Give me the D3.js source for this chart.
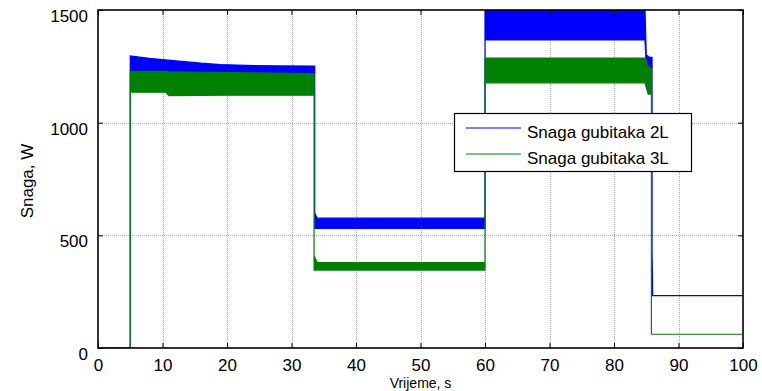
<!DOCTYPE html>
<html>
<head>
<meta charset="utf-8">
<script src="https://cdn.jsdelivr.net/npm/d3@7"></script>
<style>
  html, body { margin: 0; padding: 0; background: #fff; }
  svg { display: block; font-family: "Liberation Sans", Arial, sans-serif; }
</style>
</head>
<body>
<svg id="chart" width="762" height="391"></svg>
<script>
// Loss power of the two converter topologies over time (envelope of the fast ripple)
const seriesNames = ["Snaga gubitaka 2L", "Snaga gubitaka 3L"];

// 2-level converter: time [s], upper and lower envelope [W]
const time2L = [0, 5, 5, 8, 10, 13, 16, 19, 23, 28, 33.6, 33.6, 34.0, 60, 60, 84.8, 85.0, 85.5, 85.9, 85.9, 86.0, 100];
const high2L = [0, 0, 1296, 1285, 1280, 1272, 1264, 1258, 1254, 1252, 1251, 599, 576, 576, 1510, 1510, 1300, 1290, 1290, 427, 232, 232];
const low2L  = [0, 0, 1215, 1215, 1215, 1215, 1215, 1215, 1215, 1215, 1215, 531, 531, 531, 1367, 1367, 1260, 1225, 1225, 232, 232, 232];

// 3-level converter: time [s], upper and lower envelope [W]
const time3L = [0, 5, 5, 10.5, 11, 20, 33.5, 33.5, 34.0, 60, 60, 84.8, 85.3, 85.8, 85.8, 100];
const high3L = [0, 0, 1228, 1228, 1226, 1222, 1218, 408, 379, 379, 1287, 1287, 1250, 1240, 61, 61];
const low3L  = [0, 0, 1135, 1135, 1120, 1122, 1122, 346, 346, 346, 1177, 1177, 1127, 1127, 61, 61];

const xTicks = [0, 10, 20, 30, 40, 50, 60, 70, 80, 90, 100];
const yTicks = [0, 500, 1000, 1500];
const xTitle = "Vrijeme, s";
const yTitle = "Snaga, W";

const colors = ["#0000ff", "#008000"];

const W = 762, H = 391;
const margin = { left: 98, right: 19, top: 10, bottom: 43 };
const pw = W - margin.left - margin.right;
const ph = H - margin.top - margin.bottom;

const svg = d3.select("#chart");
const x = d3.scaleLinear().domain([0, 100]).range([margin.left, margin.left + pw]);
const y = d3.scaleLinear().domain([0, 1500]).range([margin.top + ph, margin.top]);

svg.append("defs").append("clipPath").attr("id", "plotClip")
  .append("rect").attr("x", margin.left).attr("y", margin.top).attr("width", pw).attr("height", ph);

// dotted grid
const grid = svg.append("g").attr("stroke", "#a8a8a8").attr("stroke-width", 1).attr("stroke-dasharray", "1,1");
grid.selectAll("line.gx").data(xTicks.slice(1, -1)).join("line")
  .attr("x1", d => Math.round(x(d)) + 0.5).attr("x2", d => Math.round(x(d)) + 0.5)
  .attr("y1", margin.top).attr("y2", margin.top + ph);
grid.selectAll("line.gy").data(yTicks.slice(1, -1)).join("line")
  .attr("y1", d => Math.round(y(d)) + 0.5).attr("y2", d => Math.round(y(d)) + 0.5)
  .attr("x1", margin.left).attr("x2", margin.left + pw);

// series envelopes
function envelope(t, hi, lo) {
  return t.map((d, i) => ({ t: d, hi: hi[i], lo: lo[i] }));
}
const series = [envelope(time2L, high2L, low2L), envelope(time3L, high3L, low3L)];
const area = d3.area().x(d => x(d.t)).y0(d => y(d.lo)).y1(d => y(d.hi));

const plot = svg.append("g").attr("clip-path", "url(#plotClip)");
series.forEach((s, i) => {
  plot.append("path").datum(s)
    .attr("d", area)
    .attr("fill", colors[i])
    .attr("stroke", colors[i])
    .attr("stroke-width", 1.2)
    .attr("stroke-linejoin", "miter");
});

// axes box with inward ticks on all sides
const axisG = svg.append("g");
const tickLen = 5;
const fmt = d3.format("d");
const xBottom = d3.axisBottom(x).tickValues(xTicks).tickFormat(fmt).tickSizeInner(-tickLen).tickSizeOuter(0).tickPadding(11);
const yLeft = d3.axisLeft(y).tickValues(yTicks).tickFormat(fmt).tickSizeInner(-tickLen).tickSizeOuter(0).tickPadding(10);
const xTop = d3.axisTop(x).tickValues(xTicks).tickSizeInner(-tickLen).tickSizeOuter(0).tickFormat("");
const yRight = d3.axisRight(y).tickValues(yTicks).tickSizeInner(-tickLen).tickSizeOuter(0).tickFormat("");

const gx = axisG.append("g").attr("transform", `translate(0,${margin.top + ph})`).call(xBottom);
const gy = axisG.append("g").attr("transform", `translate(${margin.left},0)`).call(yLeft);
axisG.append("g").attr("transform", `translate(0,${margin.top})`).call(xTop);
axisG.append("g").attr("transform", `translate(${margin.left + pw},0)`).call(yRight);

axisG.selectAll(".domain").remove();
axisG.selectAll(".tick line").attr("stroke", "#000").attr("stroke-width", 1);
axisG.selectAll(".tick text").attr("font-size", 17).attr("fill", "#000")
  .attr("font-family", "'Liberation Sans', Arial, sans-serif");
gy.selectAll(".tick text").attr("dy", "0.68em").attr("dx", 0);
gx.selectAll(".tick text").attr("dy", "0.71em");

axisG.append("rect")
  .attr("x", margin.left).attr("y", margin.top).attr("width", pw).attr("height", ph)
  .attr("fill", "none").attr("stroke", "#000").attr("stroke-width", 1.6);

// axis titles
svg.append("text")
  .attr("x", margin.left + pw / 2).attr("y", 388)
  .attr("text-anchor", "middle").attr("font-size", 14).text(xTitle);
svg.append("text")
  .attr("transform", `translate(33,${margin.top + ph / 2 + 2}) rotate(-90)`)
  .attr("text-anchor", "middle").attr("font-size", 17).text(yTitle);

// legend
const lg = svg.append("g").attr("transform", "translate(454,113)");
lg.append("rect").attr("x", 0.5).attr("y", 0.5).attr("width", 237).attr("height", 58)
  .attr("fill", "#fff").attr("stroke", "#000").attr("stroke-width", 1.2);
seriesNames.forEach((name, i) => {
  const yy = 15 + i * 26;
  lg.append("line").attr("x1", 12).attr("x2", 67).attr("y1", yy).attr("y2", yy)
    .attr("stroke", colors[i]).attr("stroke-width", 1.2);
  lg.append("text").attr("x", 73).attr("y", yy + 10).attr("font-size", 17).text(name);
});
</script>
</body>
</html>
